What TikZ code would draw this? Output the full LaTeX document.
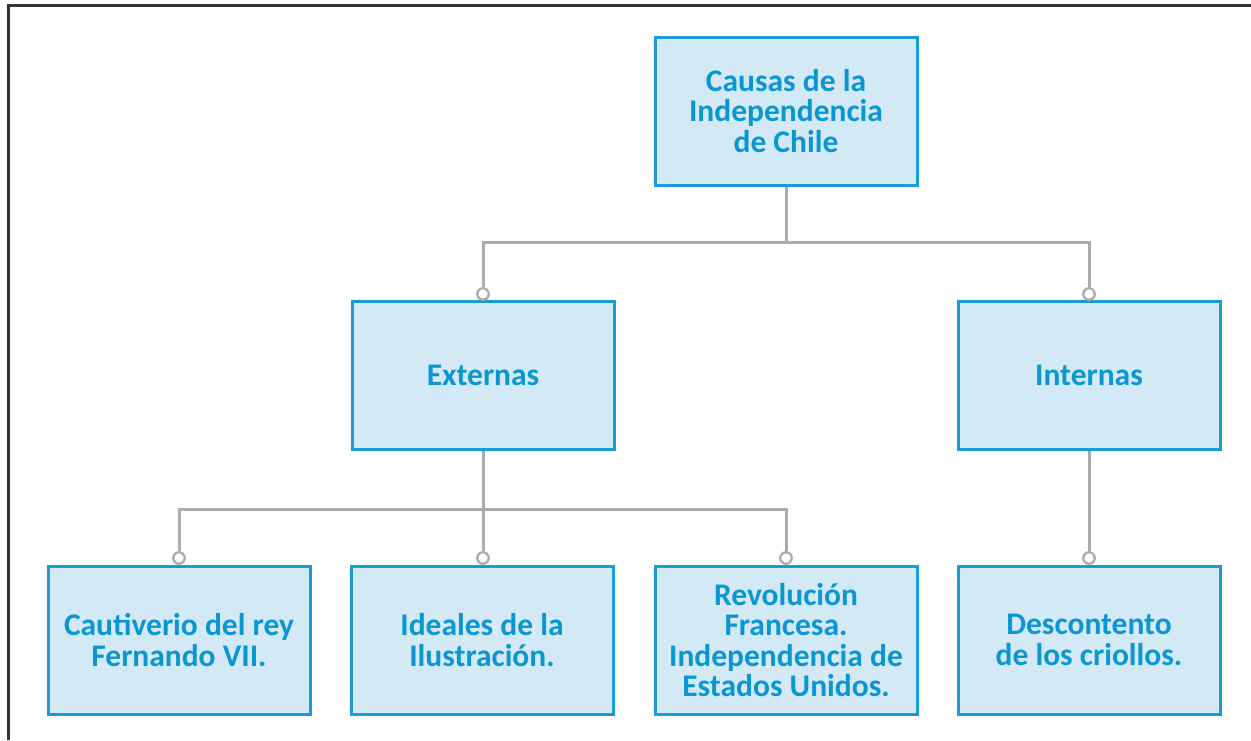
\documentclass[tikz,border=0pt]{standalone}
\usepackage{fontspec}
\setmainfont{Carlito}
\definecolor{txtblue}{HTML}{0A96D2}
\definecolor{boxfill}{HTML}{D3E9F6}
\definecolor{boxline}{HTML}{1A9AD6}
\definecolor{conn}{HTML}{ABABAB}
\definecolor{frame}{HTML}{333333}
\tikzset{
  cbox/.style={draw=boxline, line width=3pt, fill=boxfill, minimum width=262pt, minimum height=148pt,
    inner sep=0pt, align=center, text=txtblue, font=\fontsize{31.5}{30.5}\selectfont\bfseries},
  cline/.style={draw=conn, line width=3pt},
  knob/.style={circle, draw=conn, line width=2.3pt, fill=white, minimum size=11.5pt, inner sep=0pt}
}
\begin{document}
\begin{tikzpicture}[x=1pt,y=-1pt]
\useasboundingbox (0,0) rectangle (1251,740);
\draw[frame, line width=3pt] (8.5,740) -- (8.5,5.5) -- (1251,5.5);
\node[cbox] (top) at (786,111) {Causas de la\\Independencia\\de Chile};
\node[cbox] (ext) at (483,375) {Externas};
\node[cbox] (int) at (1089,375) {Internas};
\node[cbox] (b1) at (179,640) {Cautiverio del rey\\Fernando VII.};
\node[cbox] (b2) at (482,640) {Ideales de la\\Ilustración.};
\node[cbox] (b3) at (786,640) {Revolución\\Francesa.\\Independencia de\\Estados Unidos.};
\node[cbox] (b4) at (1089,640) {Descontento\\de los criollos.};
% knobs
\node[knob] (kext) at (483,294) {};
\node[knob] (kint) at (1089,294) {};
\node[knob] (k1) at (179,558) {};
\node[knob] (k2) at (483,558) {};
\node[knob] (k3) at (786,558) {};
\node[knob] (k4) at (1089,558) {};
\coordinate (j1) at (786,242);
\coordinate (j2) at (483,509);
\draw[cline] (top.south) -- (j1);
\draw[cline] (kext.north) |- (j1) -| (kint.north);
\draw[cline] (ext.south) -- (j2);
\draw[cline] (k1.north) |- (j2) -| (k3.north);
\draw[cline] (j2) -- (k2.north);
\draw[cline] (int.south) -- (k4.north);
\end{tikzpicture}
\end{document}
